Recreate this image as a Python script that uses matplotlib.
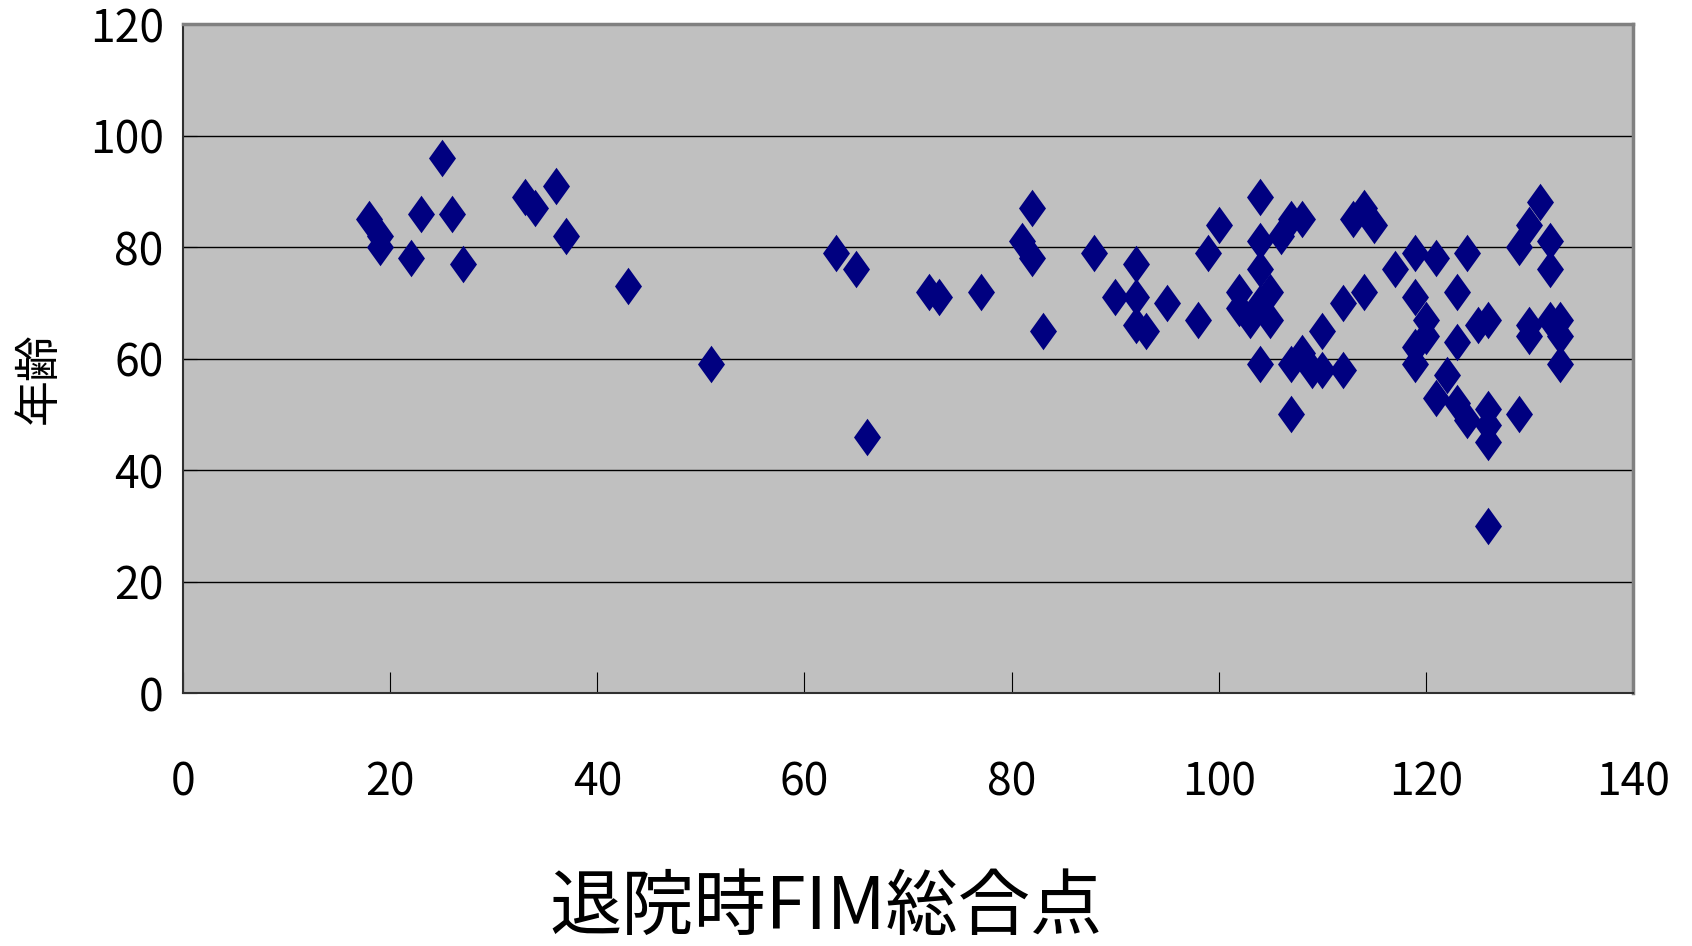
import matplotlib.pyplot as plt
from matplotlib.path import Path

plt.rcParams['font.family'] = ['Noto Sans CJK JP', 'DejaVu Sans']

# 退院時FIM総合点 (x) と 年齢 (y)
fim = [18, 19, 19, 22, 23, 25, 26, 27, 33, 34, 36, 37, 43, 51, 63, 65, 66, 72, 73, 77,
       81, 82, 82, 83, 88, 90, 92, 92, 92, 93, 95, 98, 99, 100, 102, 102, 103, 104, 105, 105,
       104, 104, 104, 104, 106, 107, 108, 107, 107, 108, 109, 110, 110, 112, 112, 113, 114, 115, 114, 117,
       119, 121, 124, 119, 120, 123, 119, 120, 119, 123, 125, 126, 122, 121, 123, 124, 126, 126, 126, 126,
       129, 131, 130, 129, 132, 132, 130, 130, 132, 133, 133, 133]
age = [85, 82, 80, 78, 86, 96, 86, 77, 89, 87, 91, 82, 73, 59, 79, 76, 46, 72, 71, 72,
       81, 78, 87, 65, 79, 71, 77, 71, 66, 65, 70, 67, 79, 84, 72, 69, 67, 70, 72, 67,
       89, 81, 76, 59, 82, 85, 85, 59, 50, 61, 58, 65, 58, 58, 70, 85, 87, 84, 72, 76,
       79, 78, 79, 71, 67, 72, 62, 64, 59, 63, 66, 67, 57, 53, 52, 49, 51, 48, 45, 30,
       50, 88, 84, 80, 81, 76, 66, 64, 67, 67, 64, 59]

x_ticks = [0, 20, 40, 60, 80, 100, 120, 140]
y_ticks = [0, 20, 40, 60, 80, 100, 120]

# tall diamond like the Excel marker
diamond = Path([(-0.36, 0), (0, 0.5), (0.36, 0), (0, -0.5), (-0.36, 0)],
               [Path.MOVETO, Path.LINETO, Path.LINETO, Path.LINETO, Path.CLOSEPOLY])

fig = plt.figure(figsize=(16.92, 9.46), dpi=100)
ax = fig.add_axes([0.1082, 0.2674, 0.8569, 0.7072])
ax.set_facecolor('#C0C0C0')

ax.plot(fim, age, linestyle='none', marker=diamond, markersize=27,
        color='#000080', markeredgewidth=0, zorder=3)

ax.set_xlim(0, 140)
ax.set_ylim(0, 120)
ax.set_xticks(x_ticks)
ax.set_yticks(y_ticks)
ax.yaxis.grid(True, color='black', linewidth=1.0)
ax.set_axisbelow(True)

ax.tick_params(axis='x', direction='in', length=15, width=0.8, color='black',
               labelsize=32, pad=48)
ax.tick_params(axis='y', direction='in', length=10, width=0.8, color='black',
               labelsize=32, pad=14)

for s in ['top', 'right']:
    ax.spines[s].set_color('#808080')
    ax.spines[s].set_linewidth(2.5)
for s in ['left', 'bottom']:
    ax.spines[s].set_color('#303030')
    ax.spines[s].set_linewidth(1.5)

fig.text(0.0225, 0.60, '年齢', rotation=90, fontsize=33, ha='center', va='center')
fig.text(0.488, 0.040, '退院時FIM総合点', fontsize=52, ha='center', va='center')

fig.savefig('out.png', dpi=100)
